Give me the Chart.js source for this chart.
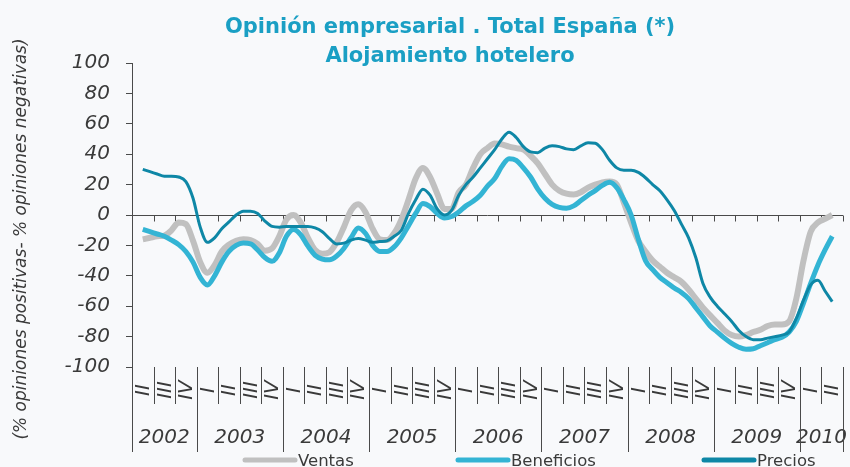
<!DOCTYPE html>
<html><head><meta charset="utf-8">
<script src="https://cdn.jsdelivr.net/npm/chart.js@4.4.1/dist/chart.umd.min.js"></script>
<style>html,body{margin:0;padding:0;background:#f8f9fb;}canvas{display:block;}</style>
</head><body>
<canvas id="c" width="850" height="467"></canvas>
<script>
// ---- data ----
const years = ['2002','2003','2004','2005','2006','2007','2008','2009','2010'];
const yearQuarters = [['II','III','IV'],['I','II','III','IV'],['I','II','III','IV'],['I','II','III','IV'],
  ['I','II','III','IV'],['I','II','III','IV'],['I','II','III','IV'],['I','II','III','IV'],['I','II']];
const yTicks = [-100,-80,-60,-40,-20,0,20,40,60,80,100];
const seriesNames = ['Ventas','Beneficios','Precios'];
// monthly readings, from the middle of 2002-II to the middle of 2010-II
const ventas = [-16,-15,-14,-13.5,-10,-5,-6,-17,-31,-38,-33,-24,-19.5,-17,-16,-16.5,-19,-23.5,-22,-14,
  -3,0,-5,-15,-23,-25.5,-24.5,-18,-8,3,7,2,-9,-16,-16.5,-12,-3,10,24,31,
  25,14,4,4,15,20,31,40,44,47,46.5,45,44,43,39,34,27,20,16,14,
  13.5,15,18,20,21.5,22,20,8,-5,-17,-24,-30,-34,-38,-41,-44,-49,-55,-61,-66,
  -71,-76,-79,-80,-79,-77,-75.5,-73,-72,-72,-70,-55,-30,-11,-5,-2.5,0];
const beneficios = [-9.5,-11,-12.5,-14,-16.5,-19.5,-24,-31,-41,-46,-40,-31,-24,-20,-18.5,-19,-23,-28,-30.5,-25,
  -14,-9.5,-13,-20.5,-26.5,-29,-29.5,-27,-22,-15,-8.5,-12,-20,-24,-24,-21,-15,-7,1,7.5,
  5.5,1,-2,-1,2,6,9,13,19,24,32,37,36,31,25,17,11,7,5,4.5,
  6,9.5,13,16,19.5,21.5,18,10,0,-16,-30,-36,-41,-44.5,-48,-51,-55,-61,-67,-73,
  -77,-81,-84.5,-87,-88.3,-88,-86,-84,-82,-80.5,-77,-70,-58,-45,-33,-23,-14];
const precios = [30,28.5,27,25.5,25.5,25,22,11,-8,-18,-15,-9,-4.5,0,2.5,2.5,1,-4,-7.5,-8,
  -7.5,-7.5,-7.5,-7.5,-8.5,-11,-15.5,-19,-18.5,-16.5,-15.5,-16.5,-18,-17.5,-17,-14,-10,1,10,17,
  13,4,0,3,13,20,25,31,37,43,50,54.5,51,45,41.5,41,44,45.5,45,43.5,
  43,45.5,47.5,47.2,43,36,31,29.5,29.5,28,24.5,20,16,10,3,-6,-15,-28,-45,-54,
  -60,-65,-70,-76,-80,-82,-82,-81,-80,-79,-77,-68,-56,-46,-43,-50,-57];

// ---- styles ----
const FONT = '"DejaVu Sans", "Liberation Sans", Arial, sans-serif';
const TXT = '#3a3a3a';
const AXIS = '#4a4a4a';
const colors = ['#c0c0c0', '#33b4d4', '#0e87a6'];
const widths = [6, 5, 3];

const nQuarters = yearQuarters.reduce((s, q) => s + q.length, 0);
const toPts = arr => arr.map((v, i) => ({ x: 0.5 + i / 3, y: v }));
const seriesData = [ventas, beneficios, precios];

const decor = {
  id: 'decor',
  beforeDraw(chart) {
    const ctx = chart.ctx;
    ctx.save();
    ctx.fillStyle = '#f8f9fb';
    ctx.fillRect(0, 0, chart.width, chart.height);
    ctx.restore();
  },
  beforeDatasetsDraw(chart) {
    const { ctx, chartArea: a, scales: { x, y } } = chart;
    const y0 = Math.round(y.getPixelForValue(0)) + 0.5;
    ctx.save();
    ctx.strokeStyle = AXIS; ctx.lineWidth = 1;
    ctx.beginPath();
    ctx.moveTo(a.left, y0); ctx.lineTo(a.right, y0);
    for (let q = 1; q <= nQuarters; q++) {
      const px = Math.round(x.getPixelForValue(q)) + 0.5;
      ctx.moveTo(px, y0); ctx.lineTo(px, y0 + 6);
    }
    ctx.stroke();
    ctx.restore();
  },
  afterDraw(chart) {
    const { ctx, chartArea: a, scales: { x, y } } = chart;
    ctx.save();
    // title
    ctx.fillStyle = '#1a9fc4';
    ctx.font = 'bold 21px ' + FONT;
    ctx.textAlign = 'center'; ctx.textBaseline = 'alphabetic';
    ctx.fillText('Opinión empresarial . Total España (*)', 450, 33);
    ctx.fillText('Alojamiento hotelero', 450, 62);
    // y axis title
    ctx.fillStyle = TXT;
    ctx.font = 'italic 17px ' + FONT;
    ctx.translate(22, 239); ctx.rotate(-Math.PI / 2);
    ctx.textBaseline = 'middle';
    ctx.fillText('(% opiniones positivas- % opiniones negativas)', 0, 0);
    ctx.setTransform(1, 0, 0, 1, 0, 0);
    // category axis (multi-level)
    const top = a.bottom;
    ctx.strokeStyle = AXIS; ctx.lineWidth = 1;
    let q = 0;
    ctx.beginPath();
    const line = (qq, bottom) => {
      const px = Math.round(x.getPixelForValue(qq)) + 0.5;
      ctx.moveTo(px, top); ctx.lineTo(px, bottom);
    };
    line(0, 452);
    years.forEach((yr, yi) => {
      const qs = yearQuarters[yi];
      qs.forEach((ql, k) => {
        const cx = x.getPixelForValue(q + k + 0.5);
        ctx.save();
        ctx.fillStyle = TXT;
        ctx.font = 'italic 20px ' + FONT;
        ctx.translate(cx, 390); ctx.rotate(-Math.PI / 2);
        ctx.textAlign = 'center'; ctx.textBaseline = 'middle';
        ctx.fillText(ql, 0, 1);
        ctx.restore();
        if (k < qs.length - 1) line(q + k + 1, 404);
      });
      const cy = x.getPixelForValue(q + qs.length / 2);
      ctx.fillStyle = TXT;
      ctx.font = 'italic 20px ' + FONT;
      ctx.textAlign = 'center'; ctx.textBaseline = 'alphabetic';
      ctx.fillText(yr, cy, 443);
      q += qs.length;
      line(q, 452);
    });
    ctx.stroke();
    // legend
    const starts = [243, 456, 702];
    ctx.font = '16.5px ' + FONT;
    ctx.textAlign = 'left'; ctx.textBaseline = 'alphabetic';
    seriesNames.forEach((nm, i) => {
      ctx.strokeStyle = colors[i]; ctx.lineWidth = 5; ctx.lineCap = 'round';
      ctx.beginPath(); ctx.moveTo(starts[i] + 2, 460); ctx.lineTo(starts[i] + 52, 460); ctx.stroke();
      ctx.fillStyle = TXT;
      ctx.fillText(nm, starts[i] + 55, 466);
    });
    ctx.restore();
  }
};

new Chart(document.getElementById('c'), {
  type: 'line',
  data: {
    datasets: seriesNames.map((nm, i) => ({
      label: nm,
      data: toPts(seriesData[i]),
      borderColor: colors[i],
      borderWidth: widths[i],
      pointRadius: 0,
      tension: 0.4,
      cubicInterpolationMode: 'monotone',
      fill: false,
      order: 2 - i
    }))
  },
  options: {
    responsive: false,
    animation: false,
    devicePixelRatio: 1,
    layout: { padding: { left: 0, right: 7, top: 63, bottom: 100 } },
    plugins: { legend: { display: false }, title: { display: false }, tooltip: { enabled: false } },
    scales: {
      x: { type: 'linear', min: 0, max: nQuarters, display: false },
      y: {
        min: yTicks[0], max: yTicks[yTicks.length - 1],
        afterBuildTicks(s) { s.ticks = yTicks.map(v => ({ value: v })); },
        afterFit(s) { s.width = 132; },
        ticks: { font: { family: FONT, size: 20, style: 'italic' }, color: TXT, padding: 16 },
        grid: { drawOnChartArea: false, drawTicks: true, tickLength: 6, color: AXIS },
        border: { display: true, color: AXIS }
      }
    }
  },
  plugins: [decor]
});
</script>
</body></html>
